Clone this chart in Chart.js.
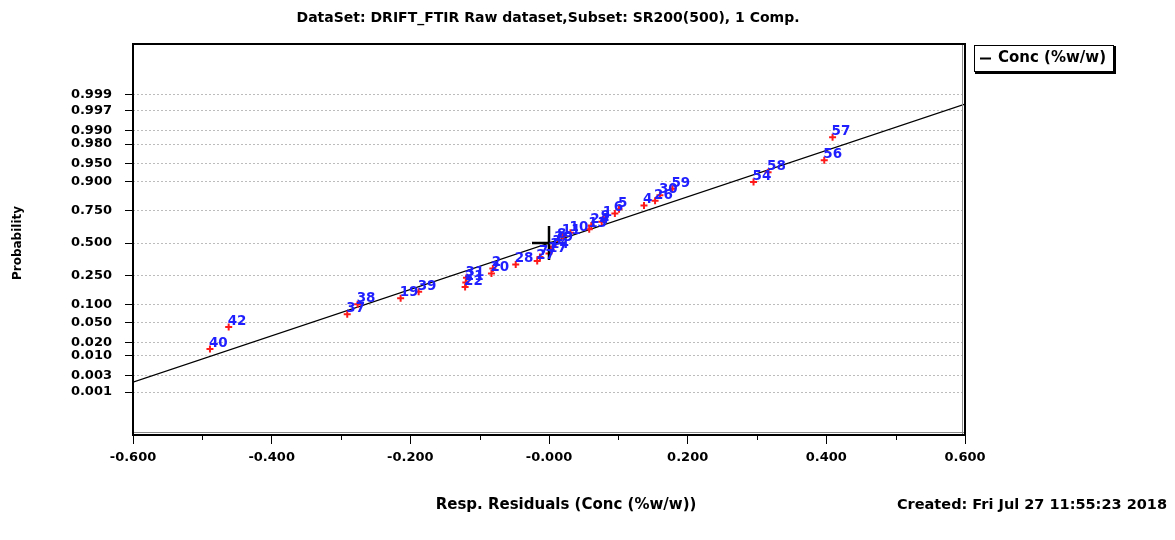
<!DOCTYPE html>
<html>
<head>
<meta charset="utf-8">
<script src="https://cdn.jsdelivr.net/npm/chart.js@4.4.0/dist/chart.umd.min.js"></script>
<style>
  html, body { margin: 0; padding: 0; background: #fff; }
  #wrap { position: relative; width: 1175px; height: 540px; }
</style>
</head>
<body>
<div id="wrap"><canvas id="probChart" width="1175" height="540"></canvas></div>
<script>
// sample numbers, residuals and plotted probabilities
const sampleIds = ['40', '42', '37', '38', '19', '39', '22', '21', '31', '20', '2', '28', '27', '7', '17', '14', '3', '29',
  '8', '11', '10', '13', '24', '9', '1', '6', '5', '4', '26', '30', '59', '54', '58', '56', '57'];
const residuals = [-0.489, -0.462, -0.291, -0.276, -0.214, -0.188, -0.121, -0.120, -0.119, -0.083, -0.081, -0.048, -0.017,
  -0.013, 0.000, 0.003, 0.006, 0.009, 0.013, 0.020, 0.031, 0.058, 0.061, 0.076, 0.079, 0.095, 0.101, 0.137, 0.153,
  0.160, 0.178, 0.295, 0.316, 0.397, 0.409];
const probabilities = [0.014, 0.041, 0.070, 0.102, 0.126, 0.156, 0.181, 0.207, 0.236, 0.265, 0.300, 0.329, 0.355,
  0.386, 0.414, 0.443, 0.471, 0.500, 0.529, 0.557, 0.586, 0.614, 0.643, 0.671, 0.700, 0.731, 0.758, 0.783, 0.810,
  0.840, 0.870, 0.898, 0.929, 0.957, 0.986];

// fitted normal line (end points) and the mean marker
const fitX = [-0.6, 0.6];
const fitProb = [0.00196, 0.99804];
const meanX = [0];
const meanProb = [0.5];

// axis ticks
const yTickProbs = [0.001, 0.003, 0.010, 0.020, 0.050, 0.100, 0.250, 0.500, 0.750, 0.900, 0.950, 0.980, 0.990, 0.997, 0.999];
const yTickLabels = ['0.001', '0.003', '0.010', '0.020', '0.050', '0.100', '0.250', '0.500', '0.750', '0.900', '0.950', '0.980', '0.990', '0.997', '0.999'];
const xTickValues = [-0.6, -0.5, -0.4, -0.3, -0.2, -0.1, 0, 0.1, 0.2, 0.3, 0.4, 0.5, 0.6];
const xTickLabels = ['-0.600', '', '-0.400', '', '-0.200', '', '-0.000', '', '0.200', '', '0.400', '', '0.600'];

const chartTitle = 'DataSet: DRIFT_FTIR Raw dataset,Subset: SR200(500), 1 Comp.';
const xTitle = 'Resp. Residuals (Conc (%w/w))';
const yTitle = 'Probability';
const createdText = 'Created: Fri Jul 27 11:55:23 2018';
const seriesName = 'Conc (%w/w)';

const FONT = '"DejaVu Sans", "Liberation Sans", Arial, sans-serif';

// inverse normal cdf (Acklam) - the probability axis is linear in z
function probit(p) {
  const a = [-3.969683028665376e+01, 2.209460984245205e+02, -2.759285104469687e+02, 1.383577518672690e+02, -3.066479806614716e+01, 2.506628277459239e+00];
  const b = [-5.447609879822406e+01, 1.615858368580409e+02, -1.556989798598866e+02, 6.680131188771972e+01, -1.328068155288572e+01];
  const c = [-7.784894002430293e-03, -3.223964580411365e-01, -2.400758277161838e+00, -2.549732539343734e+00, 4.374664141464968e+00, 2.938163982698783e+00];
  const d = [7.784695709041462e-03, 3.224671290700398e-01, 2.445134137142996e+00, 3.754408661907416e+00];
  const pl = 0.02425;
  let q, r;
  if (p < pl) {
    q = Math.sqrt(-2 * Math.log(p));
    return (((((c[0] * q + c[1]) * q + c[2]) * q + c[3]) * q + c[4]) * q + c[5]) / ((((d[0] * q + d[1]) * q + d[2]) * q + d[3]) * q + 1);
  }
  if (p > 1 - pl) {
    q = Math.sqrt(-2 * Math.log(1 - p));
    return -(((((c[0] * q + c[1]) * q + c[2]) * q + c[3]) * q + c[4]) * q + c[5]) / ((((d[0] * q + d[1]) * q + d[2]) * q + d[3]) * q + 1);
  }
  q = p - 0.5;
  r = q * q;
  return (((((a[0] * r + a[1]) * r + a[2]) * r + a[3]) * r + a[4]) * r + a[5]) * q / (((((b[0] * r + b[1]) * r + b[2]) * r + b[3]) * r + b[4]) * r + 1);
}

const toPoints = (xs, ps) => xs.map((x, i) => ({ x: x, y: probit(ps[i]) }));

// labels next to each sample marker
const pointLabels = {
  id: 'pointLabels',
  afterDatasetsDraw(chart) {
    const ctx = chart.ctx;
    const meta = chart.getDatasetMeta(1);
    ctx.save();
    ctx.fillStyle = '#1f1fff';
    ctx.font = 'bold 13.5px ' + FONT;
    ctx.textAlign = 'left';
    ctx.textBaseline = 'alphabetic';
    meta.data.forEach((pt, i) => {
      ctx.fillText(sampleIds[i], pt.x - 1, pt.y - 2);
    });
    ctx.restore();
  }
};

// frame, minor ticks, titles and the boxed legend
const decorations = {
  id: 'decorations',
  afterDraw(chart) {
    const ctx = chart.ctx;
    const a = chart.chartArea;
    const xs = chart.scales.x;
    ctx.save();

    ctx.strokeStyle = '#000';
    ctx.lineWidth = 2;
    ctx.strokeRect(a.left, a.top, a.right - a.left, a.bottom - a.top);
    ctx.strokeStyle = '#8a8a8a';
    ctx.lineWidth = 1;
    ctx.beginPath();
    ctx.moveTo(a.left + 1, a.bottom - 2.5);
    ctx.lineTo(a.right - 1, a.bottom - 2.5);
    ctx.moveTo(a.right - 2.5, a.top + 1);
    ctx.lineTo(a.right - 2.5, a.bottom - 1);
    ctx.stroke();

    // minor ticks on the residual axis
    ctx.strokeStyle = '#000';
    ctx.beginPath();
    xTickValues.forEach((v, i) => {
      if (i % 2 === 1) {
        const px = Math.round(xs.getPixelForValue(v)) + 0.5;
        ctx.moveTo(px, a.bottom);
        ctx.lineTo(px, a.bottom + 5);
      }
    });
    ctx.stroke();

    ctx.fillStyle = '#000';
    ctx.textBaseline = 'middle';
    ctx.textAlign = 'center';
    ctx.font = 'bold 14px ' + FONT;
    ctx.fillText(chartTitle, 548, 18);
    ctx.font = 'bold 15px ' + FONT;
    ctx.fillText(xTitle, 566, 505);
    ctx.textAlign = 'right';
    ctx.font = 'bold 14.5px ' + FONT;
    ctx.fillText(createdText, 1167, 505);

    // y title
    ctx.save();
    ctx.translate(18, 243);
    ctx.rotate(-Math.PI / 2);
    ctx.textAlign = 'center';
    ctx.font = 'bold 12px ' + FONT;
    ctx.fillText(yTitle, 0, 0);
    ctx.restore();

    // legend box
    ctx.strokeStyle = '#000';
    ctx.lineWidth = 1;
    ctx.strokeRect(974.5, 45.5, 139, 26);
    ctx.lineWidth = 2;
    ctx.beginPath();
    ctx.moveTo(1115, 46);
    ctx.lineTo(1115, 73);
    ctx.lineTo(975, 73);
    ctx.stroke();
    ctx.lineWidth = 2;
    ctx.beginPath();
    ctx.moveTo(980, 58.5);
    ctx.lineTo(991, 58.5);
    ctx.stroke();
    ctx.textAlign = 'left';
    ctx.font = 'bold 15px ' + FONT;
    ctx.fillText(seriesName, 998, 58);

    ctx.restore();
  }
};

new Chart(document.getElementById('probChart').getContext('2d'), {
  type: 'scatter',
  data: {
    datasets: [
      {
        label: 'mean',
        data: toPoints(meanX, meanProb),
        pointStyle: 'cross',
        pointRadius: 17,
        borderColor: '#000',
        borderWidth: 2.5
      },
      {
        label: 'samples',
        data: toPoints(residuals, probabilities),
        pointStyle: 'cross',
        pointRadius: 3.5,
        borderColor: '#ff1a1a',
        borderWidth: 2
      },
      {
        label: seriesName,
        data: toPoints(fitX, fitProb),
        showLine: true,
        borderColor: '#000',
        borderWidth: 1.3,
        pointRadius: 0
      }
    ]
  },
  options: {
    responsive: false,
    animation: false,
    events: [],
    layout: { padding: { left: 0, top: 44, right: 210, bottom: 0 } },
    plugins: {
      legend: { display: false },
      tooltip: { enabled: false },
      title: { display: false }
    },
    scales: {
      x: {
        type: 'linear',
        min: -0.6,
        max: 0.6,
        afterBuildTicks: s => { s.ticks = xTickValues.map(v => ({ value: v })); },
        afterFit: s => { s.height = 105; },
        grid: {
          drawOnChartArea: false,
          drawTicks: true,
          tickLength: 9,
          tickWidth: 1,
          tickColor: c => (c.index % 2 === 0 ? '#000' : 'rgba(0,0,0,0)')
        },
        border: { display: false },
        ticks: {
          autoSkip: false,
          maxRotation: 0,
          padding: 6,
          color: '#000',
          font: { family: FONT, weight: 'bold', size: 13 },
          callback: (v, i) => xTickLabels[i]
        }
      },
      y: {
        type: 'linear',
        min: -3.98,
        max: 4.13,
        afterBuildTicks: s => { s.ticks = yTickProbs.map(p => ({ value: probit(p) })); },
        afterFit: s => { s.width = 133; },
        grid: {
          color: '#bcbcbc',
          lineWidth: 1,
          drawTicks: true,
          tickLength: 8,
          tickColor: '#000',
          tickWidth: 1
        },
        border: { display: false, dash: [2, 2] },
        ticks: {
          autoSkip: false,
          padding: 13,
          color: '#000',
          font: { family: FONT, weight: 'bold', size: 13 },
          callback: (v, i) => yTickLabels[i]
        }
      }
    }
  },
  plugins: [pointLabels, decorations]
});
</script>
</body>
</html>
